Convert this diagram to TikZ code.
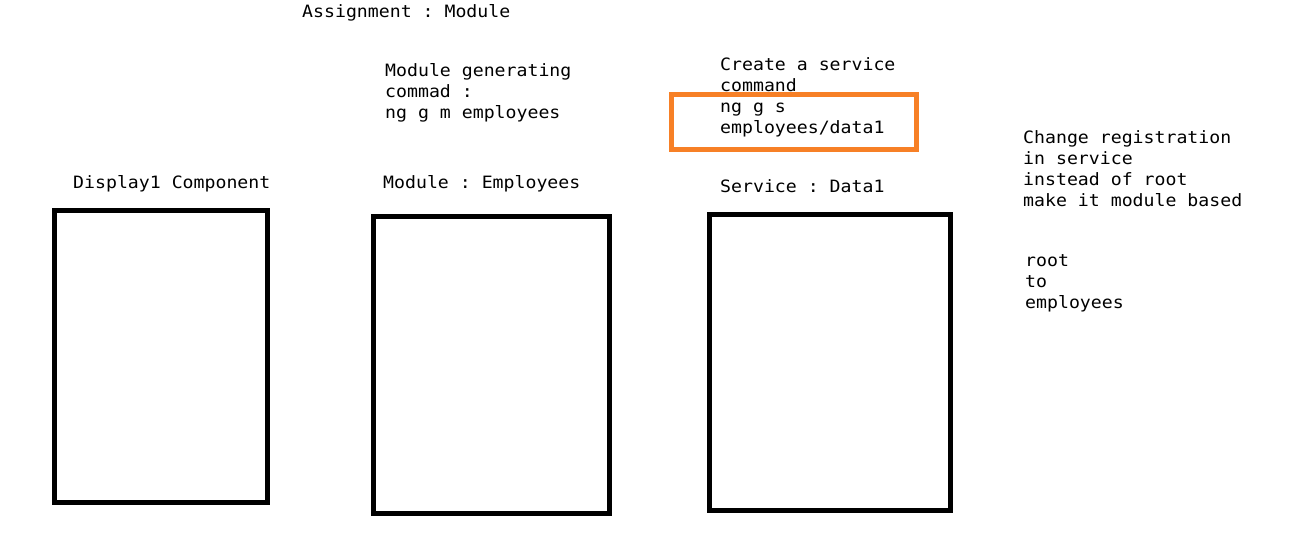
\documentclass[tikz,border=0pt]{standalone}
\usepackage{fontspec}
\setmonofont[FakeStretch=1.07]{DejaVu Sans Mono}
\definecolor{boxorange}{RGB}{247,128,38}
\tikzset{
  lbl/.style={anchor=base west, inner sep=0pt, font=\ttfamily\fontsize{17}{21}\selectfont},
  frame/.style={draw=black, line width=5pt},
  hilite/.style={draw=boxorange, line width=5pt}
}
\begin{document}
\begin{tikzpicture}[x=1pt,y=-1pt]
\useasboundingbox[fill=white] (0,0) rectangle (1313,539);
\node[lbl] (title) at (302,17) {Assignment : Module};
\node[lbl] (modcmd) at (385,76.5) {\begin{tabular}[t]{@{}l@{}}Module generating\\commad :\\ng g m employees\end{tabular}};
\node[lbl] (svccmd) at (720,70) {\begin{tabular}[t]{@{}l@{}}Create a service\\command\\ng g s\\employees/data1\end{tabular}};
\node[lbl] (change) at (1023,143.5) {\begin{tabular}[t]{@{}l@{}}Change registration\\in service\\instead of root\\make it module based\end{tabular}};
\node[lbl] (rootto) at (1025,266.5) {\begin{tabular}[t]{@{}l@{}}root\\to\\employees\end{tabular}};
\node[lbl] (disp) at (73,188) {Display1 Component};
\node[lbl] (modlbl) at (383,188) {Module : Employees};
\node[lbl] (svclbl) at (720,192) {Service : Data1};
\draw[hilite] (671,94) rectangle (916.5,149.5);
\draw[frame] (54.5,210.5) rectangle (267.5,502.5);
\draw[frame] (373.5,216.5) rectangle (609.5,513.5);
\draw[frame] (709.5,214.5) rectangle (950.5,510.5);
\end{tikzpicture}
\end{document}
